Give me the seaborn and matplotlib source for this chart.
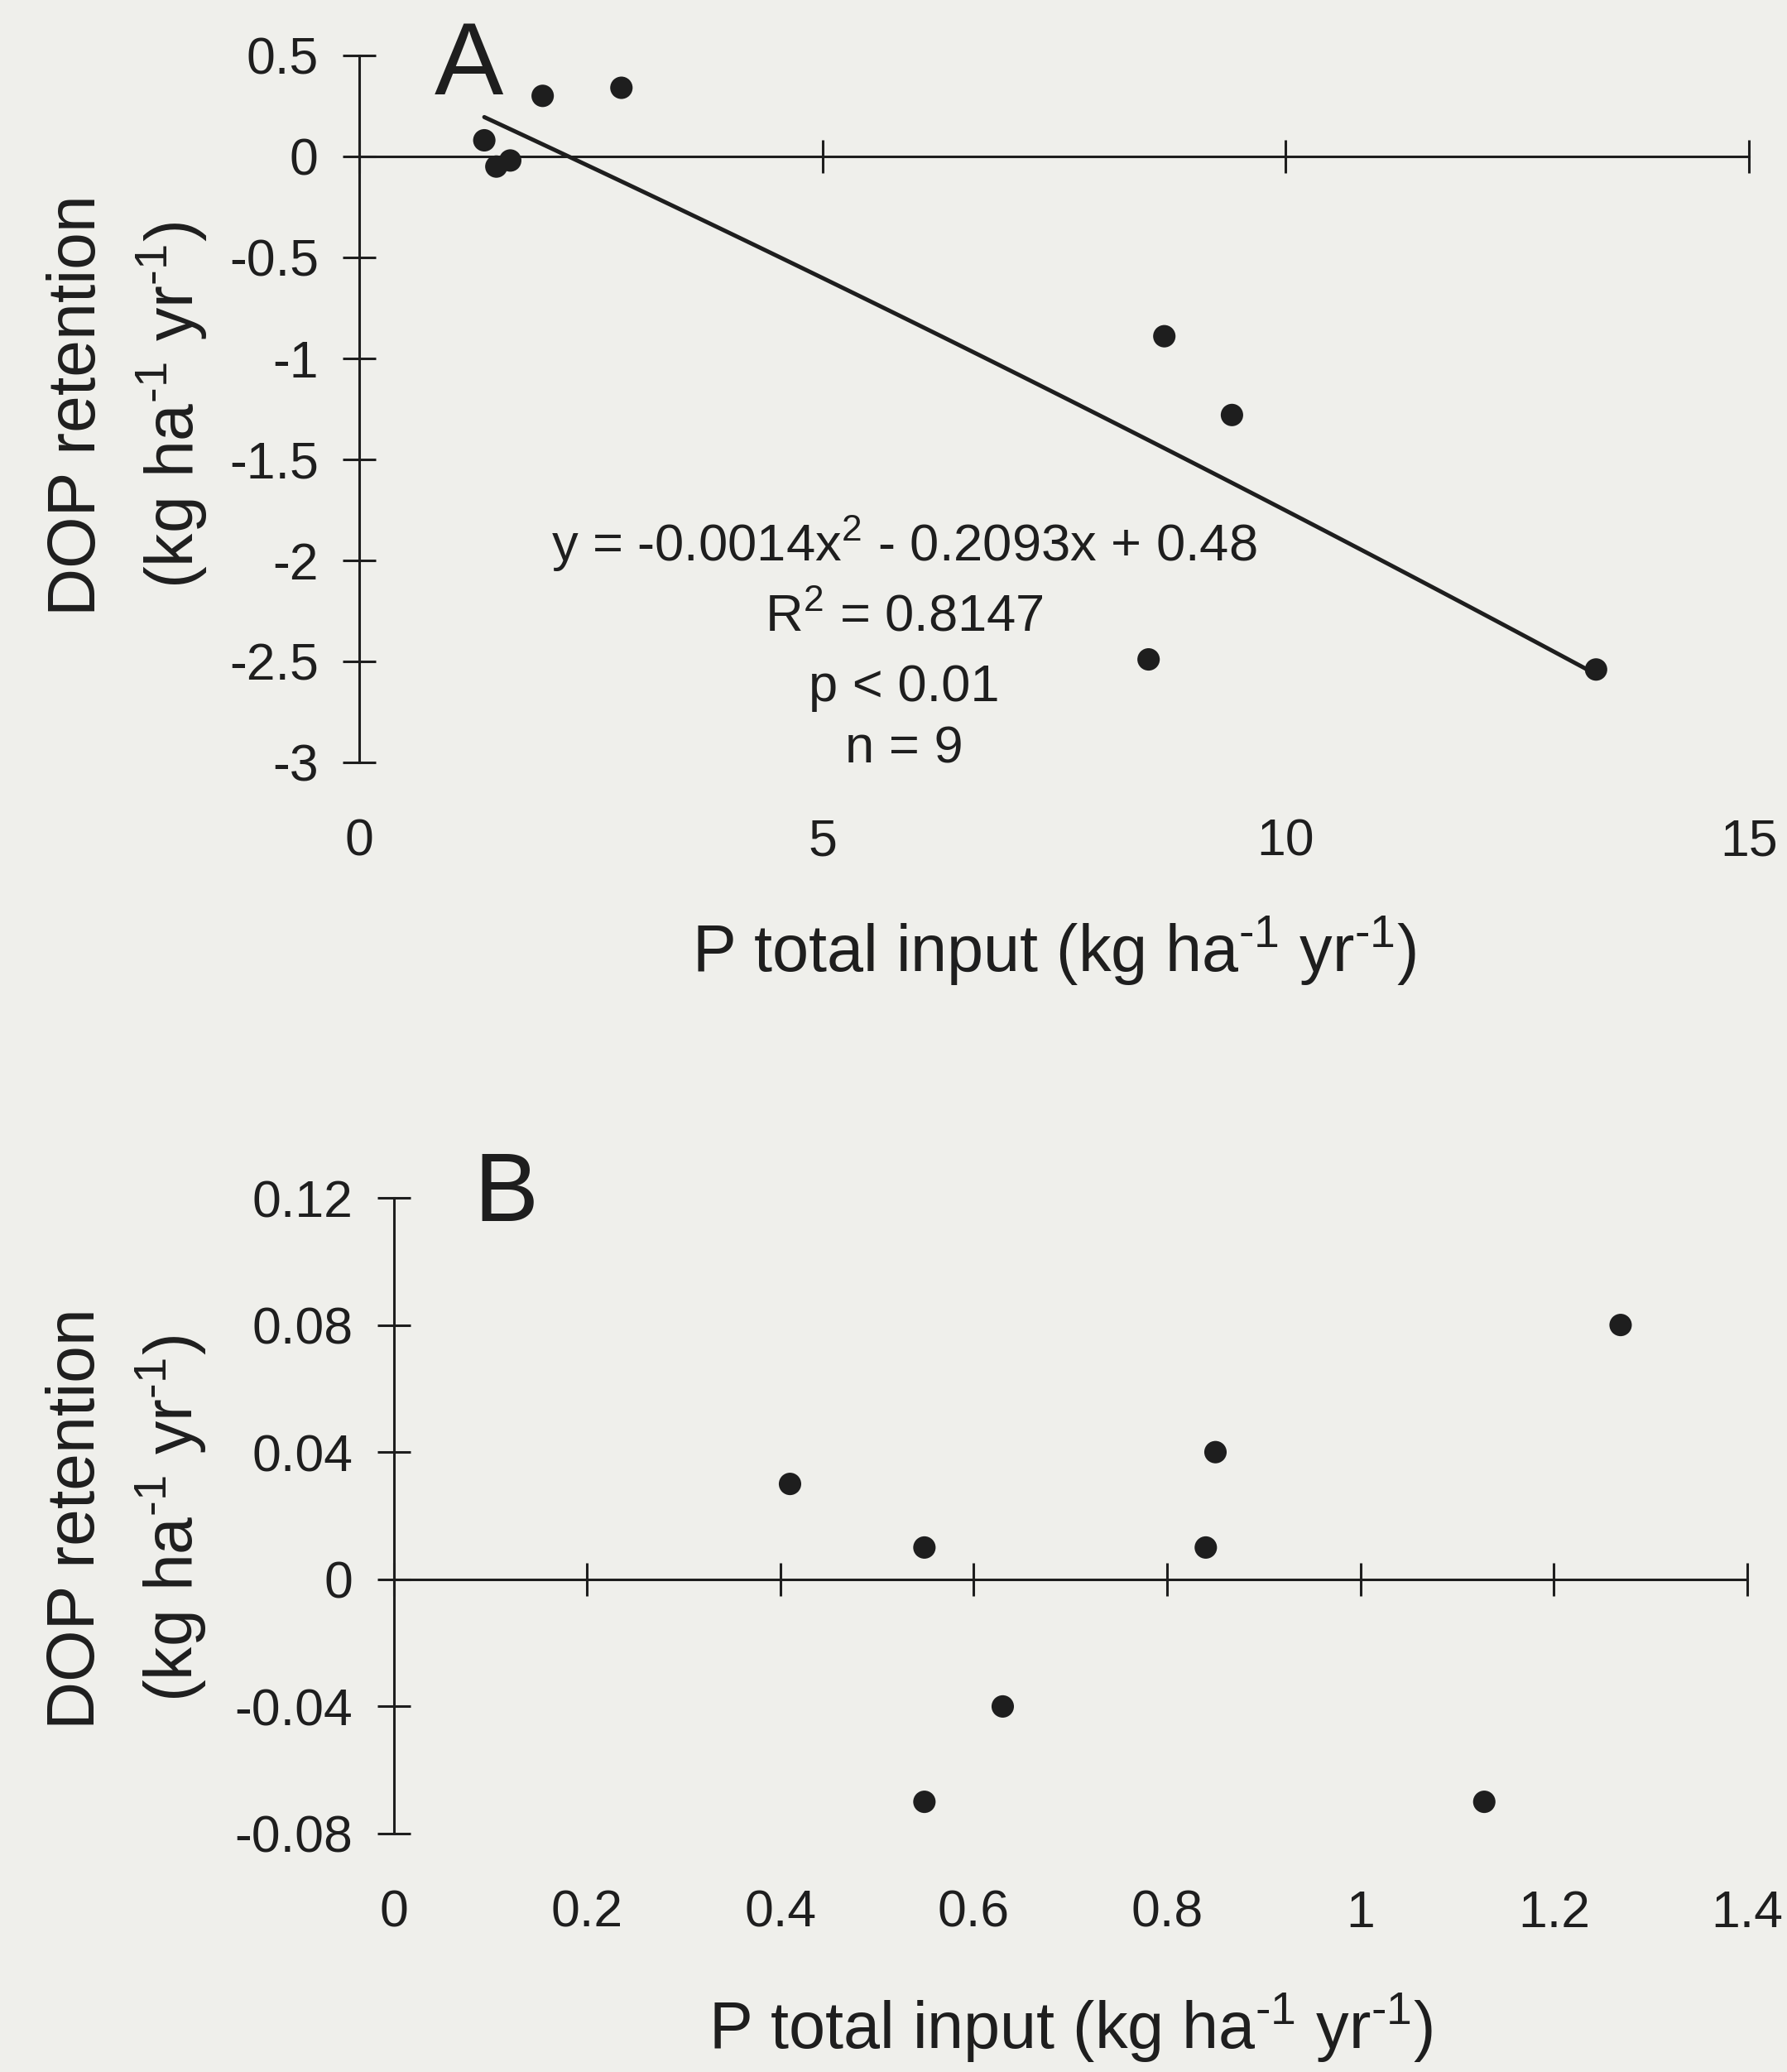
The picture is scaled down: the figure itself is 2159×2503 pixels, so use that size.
import numpy as np
import pandas as pd
import matplotlib
matplotlib.use("Agg")
import matplotlib.pyplot as plt
import seaborn as sns

# ---------------- data ----------------
# Panel A
a_x = [1.35, 1.48, 1.63, 1.98, 2.83, 8.52, 8.69, 9.42, 13.35]
a_y = [0.08, -0.05, -0.02, 0.30, 0.34, -2.49, -0.89, -1.28, -2.54]
a_fit_coef = [-0.0014, -0.2093, 0.48]   # y = c2 x^2 + c1 x + c0
a_xticks = [0, 5, 10, 15]
a_xticklabels = ["0", "5", "10", "15"]
a_yticks = [0.5, 0, -0.5, -1, -1.5, -2, -2.5, -3]
a_yticklabels = ["0.5", "0", "-0.5", "-1", "-1.5", "-2", "-2.5", "-3"]
a_stats = ["y = -0.0014x$^{2}$ - 0.2093x + 0.48", "R$^{2}$ = 0.8147", "p < 0.01", "n = 9"]

# Panel B
b_x = [0.41, 0.549, 0.549, 0.63, 0.85, 0.84, 1.128, 1.269]
b_y = [0.03, 0.01, -0.07, -0.04, 0.04, 0.01, -0.07, 0.08]
b_xticks = [0, 0.2, 0.4, 0.6, 0.8, 1.0, 1.2, 1.4]
b_xticklabels = ["0", "0.2", "0.4", "0.6", "0.8", "1", "1.2", "1.4"]
b_yticks = [0.12, 0.08, 0.04, 0, -0.04, -0.08]
b_yticklabels = ["0.12", "0.08", "0.04", "0", "-0.04", "-0.08"]

xlabel = r"P total input (kg ha$^{\text{-1}}$ yr$^{\text{-1}}$)"
ylabel = "DOP retention\n" + r"(kg ha$^{\text{-1}}$ yr$^{\text{-1}}$)"

# ---------------- style ----------------
BG = "#efefeb"
INK = "#1e1e1e"
sns.set_theme(style="white")
plt.rcParams.update({
    "font.family": ["Liberation Sans", "DejaVu Sans"],
    "mathtext.fontset": "custom",
    "mathtext.rm": "Liberation Sans",
    "mathtext.it": "Liberation Sans",
    "mathtext.default": "regular",
    "text.color": INK,
    "axes.labelcolor": INK,
    "xtick.color": INK,
    "ytick.color": INK,
    "axes.edgecolor": INK,
    "figure.facecolor": BG,
    "axes.facecolor": BG,
    "savefig.facecolor": BG,
})

fig = plt.figure(figsize=(21.59, 25.03), dpi=100)
W, H = 2159, 2503

TICK_LEN = 28.8
LW = 2.2
TICK_FS = 45
LABEL_FS = 57
YLABEL_FS = 58
MARKER_S = 380


def make_axes(left_px, right_px, top_px, bottom_px):
    return fig.add_axes([left_px / W, 1 - bottom_px / H,
                         (right_px - left_px) / W, (bottom_px - top_px) / H])


def style_axes(ax, xlim, ylim, xticks, xtl, yticks, ytl):
    ax.set_xlim(*xlim)
    ax.set_ylim(*ylim)
    for s in ["top", "right", "bottom"]:
        ax.spines[s].set_visible(False)
    ax.spines["left"].set_linewidth(LW)
    ax.set_yticks(yticks)
    ax.set_yticklabels(ytl)
    ax.set_xticks(xticks)
    ax.set_xticklabels(xtl)
    ax.tick_params(axis="y", direction="inout", length=TICK_LEN, width=LW,
                   labelsize=TICK_FS, pad=21, left=True)
    ax.tick_params(axis="x", length=0, labelsize=TICK_FS, pad=48, bottom=True)
    # zero line with crossing ticks (secondary x axis at y = 0)
    frac = (0 - ylim[0]) / (ylim[1] - ylim[0])
    sec = ax.secondary_xaxis(frac)
    sec.set_xticks(xticks)
    sec.tick_params(direction="inout", length=TICK_LEN, width=LW,
                    labeltop=False, labelbottom=False, top=True, bottom=False)
    for s in ["top", "bottom"]:
        sec.spines[s].set_linewidth(LW)
        sec.spines[s].set_color(INK)
    ax.grid(False)


# ---------------- panel A ----------------
axA = make_axes(434, 2113, 67, 921)
dfA = pd.DataFrame({"x": a_x, "y": a_y})
fit_x = np.linspace(min(a_x), max(a_x), 100)
fit_y = np.polyval(a_fit_coef, fit_x)
sns.lineplot(x=fit_x, y=fit_y, ax=axA, color=INK, linewidth=3.6)
sns.scatterplot(data=dfA, x="x", y="y", ax=axA, s=MARKER_S, color=INK,
                edgecolor="none", zorder=5, clip_on=False)
style_axes(axA, (0, 15), (-3, 0.5), a_xticks, a_xticklabels, a_yticks, a_yticklabels)
axA.set_xlabel(xlabel, fontsize=LABEL_FS)
axA.xaxis.set_label_coords(0.5, -0.267)
axA.xaxis.label.set_va("center")
axA.set_ylabel(ylabel, fontsize=YLABEL_FS, multialignment="center", linespacing=1.4)
axA.yaxis.set_label_coords(-0.167, 0.505)
axA.yaxis.label.set_va("center")
axA.text(1.18, 0.437, "A", fontsize=90, ha="center", va="center")
for txt, yy in zip(a_stats, [-1.918, -2.283, -2.629, -2.935]):
    axA.text(5.88, yy, txt, fontsize=45.5, ha="center", va="center")

# ---------------- panel B ----------------
axB = make_axes(475.5, 2111, 1447, 2215)
dfB = pd.DataFrame({"x": b_x, "y": b_y})
sns.scatterplot(data=dfB, x="x", y="y", ax=axB, s=MARKER_S, color=INK,
                edgecolor="none", zorder=5, clip_on=False)
style_axes(axB, (0, 1.4), (-0.08, 0.12), b_xticks, b_xticklabels, b_yticks, b_yticklabels)
axB.set_xlabel(xlabel, fontsize=LABEL_FS)
axB.xaxis.set_label_coords(0.5, -0.305)
axB.xaxis.label.set_va("center")
axB.set_ylabel(ylabel, fontsize=YLABEL_FS, multialignment="center", linespacing=1.4)
axB.yaxis.set_label_coords(-0.197, 0.495)
axB.yaxis.label.set_va("center")
axB.text(0.116, 0.1206, "B", fontsize=84, ha="center", va="center")

fig.savefig("out.png", dpi=100)
